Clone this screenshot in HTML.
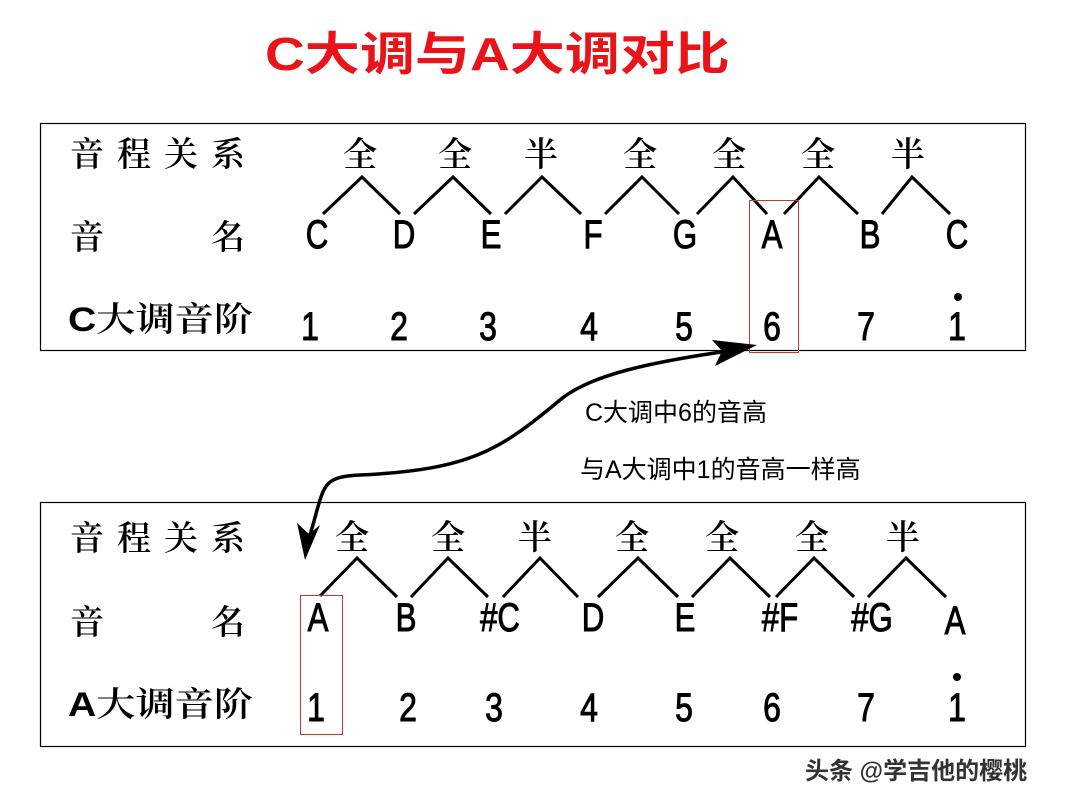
<!DOCTYPE html>
<html><head><meta charset="utf-8"><style>
html,body{margin:0;padding:0;background:#fff;}
svg{display:block}
.cj{font-family:"Noto Serif CJK SC","Liberation Serif",serif;font-size:34px;fill:#000;font-weight:600}
.lt{font-family:"Liberation Sans","Noto Sans CJK SC",sans-serif;font-size:40px;fill:#000;stroke:#000;stroke-width:1}
.tx{font-family:"Liberation Sans","Noto Sans CJK SC",sans-serif;font-size:25px;fill:#000}
</style></head><body>
<svg width="1080" height="804" viewBox="0 0 1080 804" xmlns="http://www.w3.org/2000/svg">
<rect width="1080" height="804" fill="#fff"/>
<text x="265" y="70" textLength="465" lengthAdjust="spacingAndGlyphs" font-family="Liberation Sans,Noto Sans CJK SC,sans-serif" font-weight="bold" font-size="46" fill="#e8141a">C大调与A大调对比</text>

<rect x="40.5" y="123.5" width="985" height="227" fill="none" stroke="#000" stroke-width="1.2"/>
<rect x="40.5" y="502.5" width="985" height="244" fill="none" stroke="#000" stroke-width="1.2"/>

<!-- top box -->
<text class="cj" x="70" y="166" textLength="175" lengthAdjust="spacing">音程关系</text>
<text class="cj" x="70" y="249">音</text><text class="cj" x="211" y="249">名</text>
<text x="68" y="331" textLength="185" lengthAdjust="spacingAndGlyphs" font-family="Liberation Sans,Noto Serif CJK SC,serif" font-size="34" font-weight="600">C大调音阶</text>
<g class="cj" text-anchor="middle">
<text x="360" y="166">全</text><text x="455" y="166">全</text><text x="541" y="166">半</text><text x="640" y="166">全</text><text x="729" y="166">全</text><text x="818" y="166">全</text><text x="908" y="166">半</text>
</g>
<polyline fill="none" stroke="#000" stroke-width="3" points="323,214 362,177 400,214"/>
<polyline fill="none" stroke="#000" stroke-width="3" points="414,214 453,177 491,214"/>
<polyline fill="none" stroke="#000" stroke-width="3" points="505,214 542,177 581,214"/>
<polyline fill="none" stroke="#000" stroke-width="3" points="605,214 642,177 679,214"/>
<polyline fill="none" stroke="#000" stroke-width="3" points="697,214 733,177 767,214"/>
<polyline fill="none" stroke="#000" stroke-width="3" points="784,214 819,177 858,214"/>
<polyline fill="none" stroke="#000" stroke-width="3" points="882,214 912,177 950,214"/>
<g class="lt" text-anchor="middle">
<text transform="translate(317,248) scale(0.78,1)">C</text>
<text transform="translate(404,248) scale(0.78,1)">D</text>
<text transform="translate(491,248) scale(0.78,1)">E</text>
<text transform="translate(593,248) scale(0.78,1)">F</text>
<text transform="translate(685,248) scale(0.78,1)">G</text>
<text transform="translate(772,248) scale(0.78,1)">A</text>
<text transform="translate(870,248) scale(0.78,1)">B</text>
<text transform="translate(957,248) scale(0.78,1)">C</text>
<text transform="translate(310,340) scale(0.8,1)">1</text>
<text transform="translate(399,340) scale(0.8,1)">2</text>
<text transform="translate(488,340) scale(0.8,1)">3</text>
<text transform="translate(589,340) scale(0.8,1)">4</text>
<text transform="translate(684,340) scale(0.8,1)">5</text>
<text transform="translate(772,340) scale(0.8,1)">6</text>
<text transform="translate(866,340) scale(0.8,1)">7</text>
<text transform="translate(957,340) scale(0.8,1)">1</text>
</g>
<circle cx="958" cy="297" r="4" fill="#000"/>
<rect x="749.5" y="200.5" width="49" height="152" fill="none" stroke="#c0392b" stroke-width="1"/>

<!-- curve -->
<path d="M735,350 C650,362 590,375 560,400 C500,450 470,470 360,475 C320,477 325,485 310,535" fill="none" stroke="#000" stroke-width="3.5"/>
<polygon points="757,345 715,366 722,351 712,340" fill="#000"/>
<polygon points="305,560 297,523 309,534 320,525" fill="#000"/>
<text class="tx" x="585" y="421">C大调中6的音高</text>
<text class="tx" x="580" y="478">与A大调中1的音高一样高</text>

<!-- bottom box -->
<text class="cj" x="70" y="550" textLength="175" lengthAdjust="spacing">音程关系</text>
<text class="cj" x="70" y="634">音</text><text class="cj" x="211" y="634">名</text>
<text x="68" y="716" textLength="185" lengthAdjust="spacingAndGlyphs" font-family="Liberation Sans,Noto Serif CJK SC,serif" font-size="34" font-weight="600">A大调音阶</text>
<g class="cj" text-anchor="middle">
<text x="352" y="549">全</text><text x="448" y="549">全</text><text x="535" y="549">半</text><text x="632" y="549">全</text><text x="722" y="549">全</text><text x="812" y="549">全</text><text x="903" y="549">半</text>
</g>
<polyline fill="none" stroke="#000" stroke-width="3" points="320,596 357,558 397,597"/>
<polyline fill="none" stroke="#000" stroke-width="3" points="411,597 448,558 488,597"/>
<polyline fill="none" stroke="#000" stroke-width="3" points="503,597 540,558 578,597"/>
<polyline fill="none" stroke="#000" stroke-width="3" points="598,597 638,558 678,597"/>
<polyline fill="none" stroke="#000" stroke-width="3" points="692,597 730,558 770,597"/>
<polyline fill="none" stroke="#000" stroke-width="3" points="776,597 814,558 854,597"/>
<polyline fill="none" stroke="#000" stroke-width="3" points="868,597 906,558 946,597"/>
<g class="lt" text-anchor="middle">
<text transform="translate(318,631) scale(0.78,1)">A</text>
<text transform="translate(406,631) scale(0.78,1)">B</text>
<text transform="translate(500,631) scale(0.78,1)">#C</text>
<text transform="translate(593,631) scale(0.78,1)">D</text>
<text transform="translate(685,631) scale(0.78,1)">E</text>
<text transform="translate(780,631) scale(0.78,1)">#F</text>
<text transform="translate(872,631) scale(0.78,1)">#G</text>
<text transform="translate(955,634) scale(0.78,1)">A</text>
<text transform="translate(316,721) scale(0.8,1)">1</text>
<text transform="translate(408,721) scale(0.8,1)">2</text>
<text transform="translate(494,721) scale(0.8,1)">3</text>
<text transform="translate(589,721) scale(0.8,1)">4</text>
<text transform="translate(684,721) scale(0.8,1)">5</text>
<text transform="translate(772,721) scale(0.8,1)">6</text>
<text transform="translate(866,721) scale(0.8,1)">7</text>
<text transform="translate(957,721) scale(0.8,1)">1</text>
</g>
<circle cx="957" cy="677" r="4" fill="#000"/>
<rect x="300.5" y="595.5" width="42" height="139" fill="none" stroke="#c0392b" stroke-width="1"/>

<text x="805" y="779" font-family="Liberation Sans,Noto Sans CJK SC,sans-serif" font-size="24" font-weight="bold" fill="#333">头条 @学吉他的樱桃</text>
</svg>
</body></html>
